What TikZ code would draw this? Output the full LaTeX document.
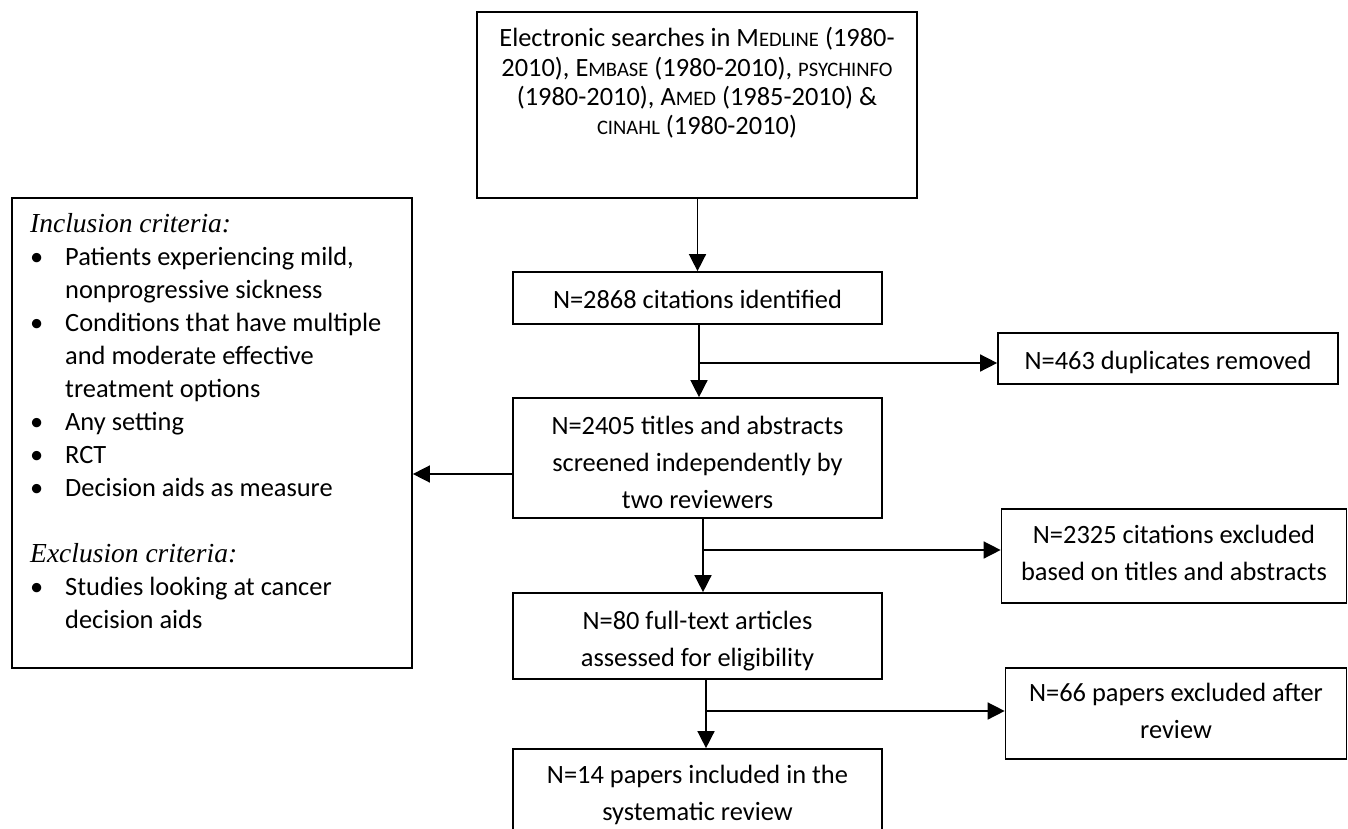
\documentclass[tikz,border=0pt]{standalone}
\usepackage{fontspec}
\setmainfont{Carlito}
\newfontfamily\critfont{Liberation Serif}
\usetikzlibrary{arrows.meta}
\newcommand\smcp[1]{{\fontsize{20.6}{20}\selectfont #1}}
\newcommand\lines[1]{\begin{tabular}[t]{@{}c@{}}#1\end{tabular}}
\newcommand\bul{\makebox[35pt][l]{•}}
\newcommand\ind{\hspace*{35pt}}
\begin{document}
\begin{tikzpicture}[x=1pt,y=-1pt,
  box/.style={draw, line width=1.7pt, rectangle, inner sep=0pt},
  txt/.style={anchor=base, inner sep=0pt, font=\fontsize{26.4}{37}\selectfont},
  arr/.style={line width=1.5pt, -{Triangle[length=17pt,width=17pt]}}]
\useasboundingbox (0,0) rectangle (1348,829);
\clip (0,0) rectangle (1348,829);
% boxes
\node[box, minimum width=440pt, minimum height=186pt] (src) at (697,105) {};
\node[box, minimum width=369pt, minimum height=52pt] (cit) at (697.5,298) {};
\node[box, minimum width=369pt, minimum height=120pt] (scr) at (697.5,458) {};
\node[box, minimum width=369pt, minimum height=86pt] (full) at (697.5,636) {};
\node[box, minimum width=369pt, minimum height=92pt] (inc) at (697.5,795) {};
\node[box, minimum width=340pt, minimum height=51pt] (dup) at (1168,358.5) {};
\node[box, minimum width=345pt, minimum height=94pt] (exa) at (1174,556) {};
\node[box, minimum width=341pt, minimum height=91pt] (exb) at (1176,713.5) {};
\node[box, minimum width=400pt, minimum height=470pt] (crit) at (212,433) {};
% texts
\node[txt, font=\fontsize{26.4}{29.3}\selectfont] (srct) at (697,47) {\lines{Electronic searches in M\smcp{EDLINE} (1980-\\2010), E\smcp{MBASE} (1980-2010), \smcp{PSYCHINFO}\\(1980-2010), A\smcp{MED} (1985-2010) \&\\\smcp{CINAHL} (1980-2010)}};
\node[txt] (citt) at (697.5,308) {N=2868 citations identified};
\node[txt] (scrt) at (697.5,434) {\lines{N=2405 titles and abstracts\\screened independently by\\two reviewers}};
\node[txt] (fullt) at (697.5,629) {\lines{N=80 full-text articles\\assessed for eligibility}};
\node[txt] (inct) at (697.5,783) {\lines{N=14 papers included in the\\systematic review}};
\node[txt] (dupt) at (1168,369) {N=463 duplicates removed};
\node[txt] (exat) at (1174,543) {\lines{N=2325 citations excluded\\based on titles and abstracts}};
\node[txt] (exbt) at (1176,701) {\lines{N=66 papers excluded after\\review}};
\node[anchor=base west, inner sep=0pt] (critt) at (30,232) {\begin{minipage}[t]{375pt}\fontsize{26.4}{33}\selectfont
{\critfont\itshape\fontsize{27.5}{33}\selectfont Inclusion criteria:}\par
\bul Patients experiencing mild,\par
\ind nonprogressive sickness\par
\bul Conditions that have multiple\par
\ind and moderate effective\par
\ind treatment options\par
\bul Any setting\par
\bul RCT\par
\bul Decision aids as measure\par
\mbox{}\par
{\critfont\itshape\fontsize{27.5}{33}\selectfont Exclusion criteria:}\par
\bul Studies looking at cancer\par
\ind decision aids\par
\end{minipage}};
% connectors
\draw[arr] (cit.north |- src.south) -- (cit.north);
\draw[arr] ([xshift=1.5pt]cit.south) -- ([xshift=1.5pt]scr.north);
\draw[arr] ([xshift=5.5pt]scr.south) -- ([xshift=5.5pt]full.north);
\draw[arr] ([xshift=8.5pt]full.south) -- ([xshift=8.5pt]inc.north);
\coordinate (b1) at (699,363);
\coordinate (b2) at (703,550);
\coordinate (b3) at (706,711);
\draw[arr] (b1) -- (b1 -| dup.west);
\draw[arr] (b2) -- (b2 -| exa.west);
\draw[arr] (b3) -- (b3 -| exb.west);
\draw[arr] ([yshift=-16pt]scr.west) -- ([yshift=-16pt]scr.west -| crit.east);
\end{tikzpicture}
\end{document}
